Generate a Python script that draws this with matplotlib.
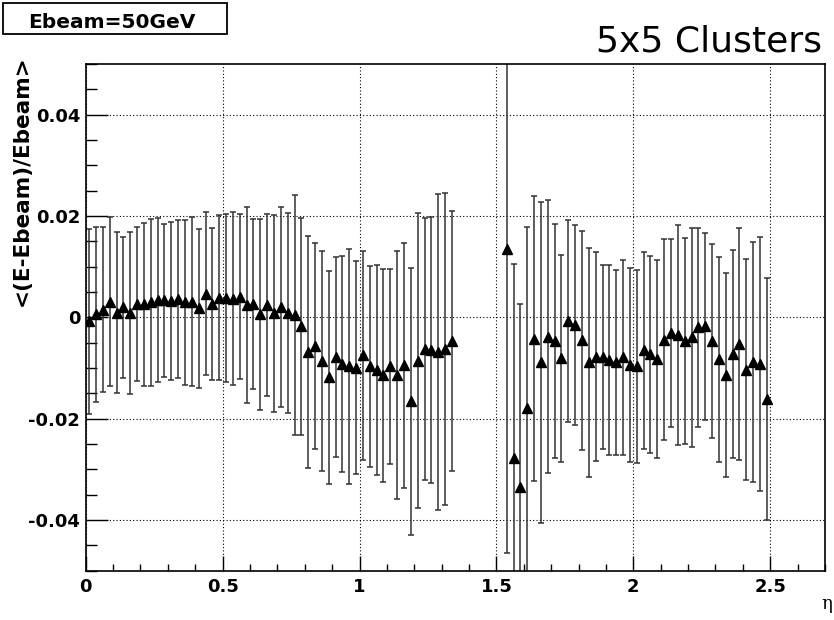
import matplotlib.pyplot as plt
import matplotlib.ticker as ticker
from matplotlib.patches import Rectangle
import numpy as np

plt.rcParams['font.family'] = ['DejaVu Sans']
plt.rcParams['font.weight'] = 'bold'
plt.rcParams['axes.unicode_minus'] = False

# eta bins of width 0.025, barrel part (0 - 1.35) and endcap part (1.525 - 2.5)
bin_width = 0.025
eta_barrel = np.arange(0, 54) * bin_width + bin_width / 2
eta_endcap = np.arange(61, 100) * bin_width + bin_width / 2

mean_barrel = [-0.0008, 0.0006, 0.0015, 0.0031, 0.0009, 0.0020, 0.0008, 0.0026, 0.0026, 0.0030,
               0.0035, 0.0034, 0.0032, 0.0037, 0.0030, 0.0031, 0.0018, 0.0047, 0.0026, 0.0039,
               0.0038, 0.0037, 0.0041, 0.0024, 0.0026, 0.0006, 0.0024, 0.0008, 0.0020, 0.0008,
               0.0004, -0.0018, -0.0068, -0.0057, -0.0086, -0.0118, -0.0078, -0.0092, -0.0097, -0.0099,
               -0.0075, -0.0097, -0.0104, -0.0114, -0.0097, -0.0114, -0.0095, -0.0166, -0.0086, -0.0062,
               -0.0064, -0.0068, -0.0062, -0.0047]
err_barrel = [0.0182, 0.0173, 0.0163, 0.0167, 0.0159, 0.0139, 0.0160, 0.0152, 0.0161, 0.0165,
              0.0162, 0.0151, 0.0156, 0.0156, 0.0163, 0.0167, 0.0157, 0.0160, 0.0150, 0.0162,
              0.0165, 0.0170, 0.0162, 0.0193, 0.0168, 0.0188, 0.0180, 0.0194, 0.0197, 0.0197,
              0.0237, 0.0215, 0.0229, 0.0203, 0.0217, 0.0210, 0.0198, 0.0214, 0.0232, 0.0211,
              0.0206, 0.0198, 0.0208, 0.0210, 0.0193, 0.0245, 0.0241, 0.0264, 0.0291, 0.0259,
              0.0262, 0.0312, 0.0308, 0.0256]

mean_endcap = [0.0135, -0.0277, -0.0335, -0.0178, -0.0042, -0.0089, -0.0038, -0.0047, -0.0081, -0.0007,
               -0.0015, -0.0045, -0.0089, -0.0078, -0.0078, -0.0084, -0.0089, -0.0079, -0.0094, -0.0097,
               -0.0065, -0.0073, -0.0082, -0.0044, -0.0031, -0.0035, -0.0047, -0.0039, -0.0020, -0.0018,
               -0.0047, -0.0083, -0.0114, -0.0073, -0.0052, -0.0103, -0.0088, -0.0092, -0.0161]
err_endcap = [0.0600, 0.0382, 0.0361, 0.0357, 0.0281, 0.0316, 0.0269, 0.0231, 0.0204, 0.0199,
              0.0197, 0.0216, 0.0226, 0.0206, 0.0181, 0.0187, 0.0182, 0.0192, 0.0192, 0.0191,
              0.0194, 0.0194, 0.0195, 0.0199, 0.0185, 0.0217, 0.0203, 0.0216, 0.0197, 0.0184,
              0.0192, 0.0202, 0.0201, 0.0205, 0.0229, 0.0218, 0.0236, 0.0250, 0.0238]

eta = np.concatenate((eta_barrel, eta_endcap))
mean = np.array(mean_barrel + mean_endcap)
err = np.array(err_barrel + err_endcap)

fig = plt.figure(figsize=(8.34, 6.2), dpi=100)
ax = fig.add_axes([0.1028, 0.0795, 0.8864, 0.8173])

ax.errorbar(eta, mean, yerr=err, fmt='^', color='black', markersize=7,
            ecolor='#333333', elinewidth=1.1, capsize=2.5, capthick=1.1)

ax.set_xlim(0, 2.7)
ax.set_ylim(-0.05, 0.05)
ax.xaxis.set_major_locator(ticker.MultipleLocator(0.5))
ax.xaxis.set_minor_locator(ticker.MultipleLocator(0.1))
ax.yaxis.set_major_locator(ticker.MultipleLocator(0.02))
ax.yaxis.set_minor_locator(ticker.MultipleLocator(0.005))
ax.xaxis.set_major_formatter(ticker.FormatStrFormatter('%g'))
ax.yaxis.set_major_formatter(ticker.FuncFormatter(lambda v, p: '%g' % round(v, 3)))
ax.tick_params(axis='x', which='major', direction='in', length=10.8, width=1, pad=5, labelsize=13)
ax.tick_params(axis='x', which='minor', direction='in', length=5.4, width=1)
ax.tick_params(axis='y', which='major', direction='in', length=15.8, width=1, pad=4, labelsize=13)
ax.tick_params(axis='y', which='minor', direction='in', length=7.9, width=1)
ax.grid(True, which='major', linestyle=(0, (1, 2)), linewidth=0.8, color='black')
for s in ax.spines.values():
    s.set_linewidth(1.2)

fig.text(22 / 834, 1 - 55 / 620, '<(E-Ebeam)/Ebeam>', rotation=90, ha='center', va='top', fontsize=15.5)
fig.text(827 / 834, 1 - 609 / 620, 'η', family='DejaVu Serif', fontweight='normal',
         fontsize=13, ha='center', va='baseline')
fig.text(822 / 834, 1 - 51 / 620, '5x5 Clusters', fontweight='normal', fontsize=26, ha='right', va='baseline')

fig.patches.append(Rectangle((2.7 / 834, 1 - 34 / 620), 224 / 834, 30.7 / 620, transform=fig.transFigure,
                             fill=False, edgecolor='black', linewidth=1.3))
fig.text(111.7 / 834, 1 - 28.3 / 620, 'Ebeam=50GeV', fontsize=14.5, ha='center', va='baseline')

plt.savefig('out.png', dpi=100)
